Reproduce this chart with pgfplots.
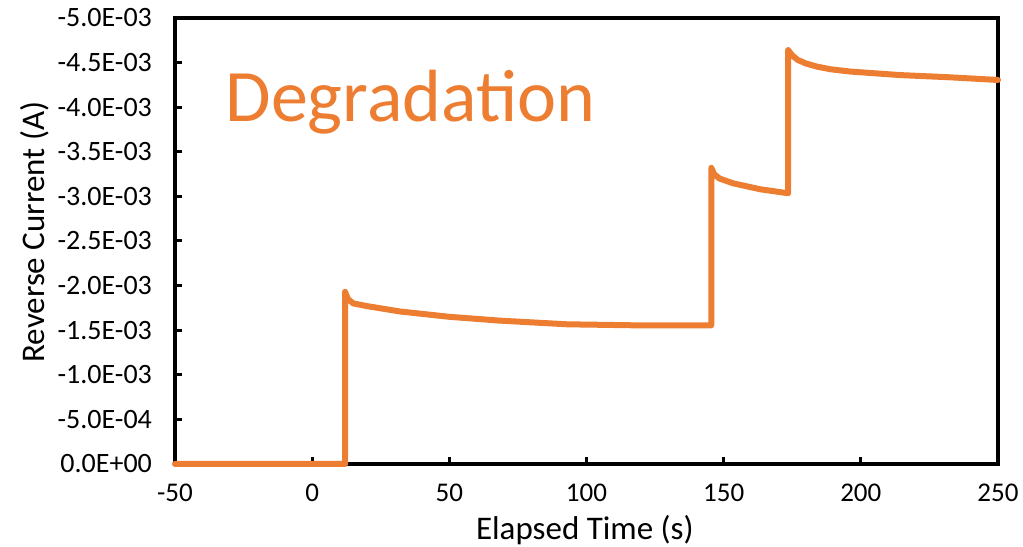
\documentclass[border=0pt]{standalone}
\usepackage{pgfplots}
\pgfplotsset{compat=1.18}
\usepackage{fontspec}
\setmainfont{Carlito}
\definecolor{xlOrange}{HTML}{ED7D31}

\begin{document}
\begin{tikzpicture}
\begin{axis}[
    scale only axis,
    width=411.5pt, height=223pt,
    xmin=-50, xmax=250,
    ymin=-5e-3, ymax=0,
    y dir=reverse,
    axis line style={black, line width=2pt},
    xtick={-50,0,...,250},
    ytick={-5e-3,-4.5e-3,-4e-3,-3.5e-3,-3e-3,-2.5e-3,-2e-3,-1.5e-3,-1e-3,-5e-4,0},
    yticklabels={-5.0E-03,-4.5E-03,-4.0E-03,-3.5E-03,-3.0E-03,-2.5E-03,-2.0E-03,-1.5E-03,-1.0E-03,-5.0E-04,0.0E+00},
    scaled y ticks=false,
    tick align=inside,
    xtick pos=bottom, ytick pos=left,
    major tick length=3.5pt,
    tick style={black, line width=1.5pt},
    /pgf/number format/assume math mode=true,
    ticklabel style={font=\fontsize{14pt}{16pt}\selectfont},
    yticklabel style={xshift=-8pt},
    xticklabel style={yshift=-9pt, font=\fontsize{13.5pt}{14pt}\selectfont, inner sep=1pt},
    xlabel={Elapsed Time (s)},
    ylabel={Reverse Current (A)},
    label style={font=\fontsize{16.5pt}{18pt}\selectfont},
    xlabel style={at={(axis description cs:0.498,-0.148)}, anchor=center, inner sep=1pt},
    ylabel style={at={(axis description cs:-0.170,0.52)}, anchor=center},
    clip=false,
]
\addplot[xlOrange, line width=3pt, line join=round, line cap=round] coordinates {
    (-50,0) (12,0) (12,-1.93e-3) (13,-1.85e-3) (15,-1.80e-3) (20,-1.77e-3) (32,-1.71e-3)
    (50,-1.65e-3) (68.5,-1.607e-3) (93,-1.566e-3) (117,-1.555e-3) (145.5,-1.555e-3)
    (145.5,-3.32e-3) (146.5,-3.25e-3) (148.5,-3.20e-3) (153.4,-3.147e-3) (163.3,-3.08e-3) (173.5,-3.035e-3)
    (173.5,-4.64e-3) (175,-4.58e-3) (177,-4.53e-3) (180,-4.49e-3) (184,-4.455e-3) (189,-4.425e-3)
    (196,-4.40e-3) (214.3,-4.36e-3) (232.5,-4.335e-3) (250,-4.305e-3)
};
\node[anchor=base west, inner sep=0pt, text=xlOrange, font=\fontsize{37pt}{40pt}\selectfont]
    at (axis description cs:0.061,0.767) {Degradation};
\end{axis}
\path ([shift={(-87.5pt,-40.5pt)}]current axis.south west) rectangle ([shift={(12.5pt,9pt)}]current axis.north east);
\end{tikzpicture}
\end{document}
